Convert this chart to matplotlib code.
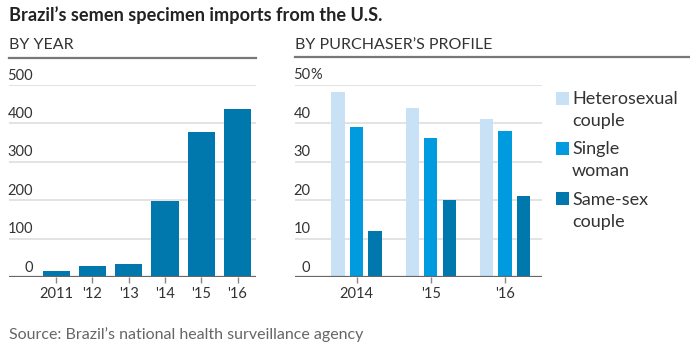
import matplotlib
matplotlib.use('Agg')
import matplotlib.pyplot as plt
import matplotlib.patches as mpatches
import numpy as np

# ─── Datos ───────────────────────────────────────────────────────────────────
YEARS = ["2011", "'12", "'13", "'14", "'15", "'16"]
IMPORTS = [15, 29, 33, 198, 377, 437]

PROFILE_YEARS = ["2014", "'15", "'16"]
HETERO = [48, 44, 41]
SINGLE = [39, 36, 38]
SAMESEX = [12, 20, 21]
PROFILE_LABELS = [("Heterosexual", "couple"), ("Single", "woman"), ("Same-sex", "couple")]

LEFT_TICKS = [0, 100, 200, 300, 400, 500]
RIGHT_TICKS = [0, 10, 20, 30, 40, 50]

# ─── Estilo ──────────────────────────────────────────────────────────────────
plt.rcParams['font.family'] = ['Lato', 'DejaVu Sans']
C_DARK = "#0077ad"
C_MID = "#009ade"
C_LIGHT = "#c9e1f5"
C_TEXT = "#333333"
C_GRID = "#e3e3e3"
C_BASE = "#666666"

W, H = 690, 357
fig = plt.figure(figsize=(W / 100, H / 100), dpi=100, facecolor='white')


def fx(px):
    return px / W


def fy(py):
    return 1 - py / H


def panel(x0, x1, ytop, ybot):
    return fig.add_axes([fx(x0), fy(ybot), fx(x1 - x0), fy(ytop) - fy(ybot)])


def style(ax, ticks, ymax, off_px, pct=False):
    ax.set_ylim(0, ymax)
    for s in ax.spines.values():
        s.set_visible(False)
    ax.set_yticks([])
    for t in ticks[1:]:
        ax.axhline(t, color=C_GRID, lw=1.4, zorder=0)
    ax.axhline(0, color=C_BASE, lw=1.6, zorder=3)
    trans = ax.get_yaxis_transform()
    off = off_px / (ax.get_position().width * W)
    for t in ticks:
        ax.text(off, t + ymax * 0.012, f"{t}", transform=trans, ha='right',
                va='bottom', fontsize=10.5, color=C_TEXT)
    if pct:
        ax.text(off, ticks[-1] + ymax * 0.012, "%", transform=trans, ha='left',
                va='bottom', fontsize=10.5, color=C_TEXT)
    ax.tick_params(axis='x', length=4, width=1, color='#888888', pad=3,
                   labelsize=10.5, labelcolor=C_TEXT)


# ─── Titulo ──────────────────────────────────────────────────────────────────
fig.text(fx(9), fy(20.5), "Brazil\u2019s semen specimen imports from the U.S.",
         fontsize=13.1, fontweight='bold', color="#222222", ha='left', va='baseline')
fig.text(fx(9), fy(49), "BY YEAR", fontsize=11.5, color=C_TEXT,
         ha='left', va='baseline')
fig.text(fx(295), fy(49), "BY PURCHASER\u2019S PROFILE", fontsize=11.5, color=C_TEXT,
         ha='left', va='baseline')
fig.add_artist(plt.Line2D([fx(9), fx(256)], [fy(58), fy(58)], color='#777777', lw=1.6))
fig.add_artist(plt.Line2D([fx(295), fx(690)], [fy(57), fy(57)], color='#777777', lw=1.6))

# ─── Panel izquierdo ─────────────────────────────────────────────────────────
ax1 = panel(9, 256, 85, 277)
x = np.arange(len(YEARS))
ax1.bar(x, IMPORTS, width=0.75, color=C_DARK, zorder=2)
ax1.set_xlim(-1.3, 5.51)
style(ax1, LEFT_TICKS, 500, 24)
ax1.set_xticks(x)
ax1.set_xticklabels(YEARS)

# ─── Panel derecho ───────────────────────────────────────────────────────────
ax2 = panel(295, 542, 84.5, 277)
g = np.arange(len(PROFILE_YEARS))
bw = 0.18
for vals, col, dx in ((HETERO, C_LIGHT, -0.25), (SINGLE, C_MID, 0), (SAMESEX, C_DARK, 0.25)):
    ax2.bar(g + dx, vals, width=bw, color=col, zorder=2)
ax2.set_xlim(-0.83, 2.5)
style(ax2, RIGHT_TICKS, 50, 15.5, pct=True)
ax2.set_xticks(g)
ax2.set_xticklabels(PROFILE_YEARS)

# ─── Leyenda ─────────────────────────────────────────────────────────────────
for i, ((l1, l2), col) in enumerate(zip(PROFILE_LABELS, [C_LIGHT, C_MID, C_DARK])):
    ytop = 91.7 + i * 50.3
    fig.add_artist(mpatches.Rectangle((fx(556), fy(ytop + 13)), fx(13), 13 / H,
                                      facecolor=col, edgecolor='none'))
    fig.text(fx(572), fy(ytop + 12.3), l1, fontsize=13, color=C_TEXT,
             ha='left', va='baseline')
    fig.text(fx(572), fy(ytop + 12.3 + 22), l2, fontsize=13, color=C_TEXT,
             ha='left', va='baseline')

# ─── Fuente ──────────────────────────────────────────────────────────────────
fig.text(fx(9), fy(339), "Source: Brazil\u2019s national health surveillance agency",
         fontsize=11.5, color="#666666", ha='left', va='baseline')

fig.savefig("out.png", dpi=100, facecolor='white')
